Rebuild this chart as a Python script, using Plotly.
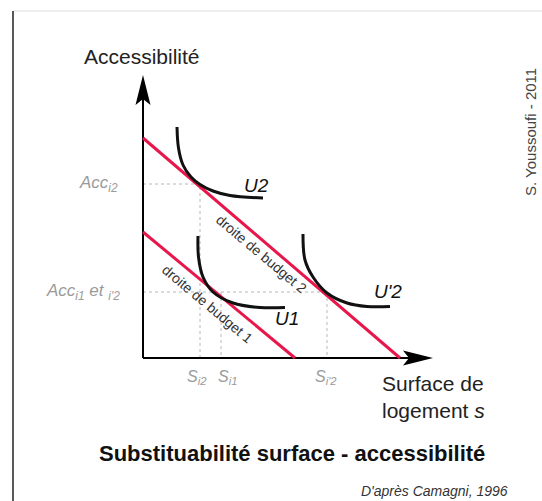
import plotly.graph_objects as go

# ---- data (diagram units; origin = axes origin, 1 unit ~ 1 px) ----
budget1_x = [0, 152]
budget1_y = [126, 0]
budget2_x = [0, 257]
budget2_y = [220, 0]

u2_x = [34, 35.5, 40, 48, 57, 70, 87, 120]
u2_y = [231, 210, 193, 181, 173.5, 167, 162.5, 160]
u1_x = [55, 55.5, 60, 70, 90, 117, 142]
u1_y = [122, 101, 81, 66, 55, 50.5, 50.5]
up2_x = [160, 162, 170, 184, 204, 224, 247]
up2_y = [124, 98, 81, 65, 55, 51.5, 51.5]

acc_i2 = 174      # Acc_i2 level
acc_i1 = 66       # Acc_i1 et i'2 level
s_i2 = 57
s_i1 = 78
s_ip2 = 184

y_axis_len = 262
x_axis_len = 268

FONT = "Liberation Sans, Arial, sans-serif"
RED = "#e8174b"
GRAY = "#9a9a9a"

fig = go.Figure()

# dotted guides
guide = dict(color="#b8b8b8", width=1, dash="dot")
fig.add_trace(go.Scatter(x=[0, s_i2, s_i2], y=[acc_i2, acc_i2, 0], mode="lines", line=guide))
fig.add_trace(go.Scatter(x=[0, s_ip2], y=[acc_i1, acc_i1], mode="lines", line=guide))
fig.add_trace(go.Scatter(x=[s_i1, s_i1], y=[acc_i1, 0], mode="lines", line=guide))
fig.add_trace(go.Scatter(x=[s_ip2, s_ip2], y=[acc_i1, 0], mode="lines", line=guide))

# axes
fig.add_trace(go.Scatter(x=[0, 0], y=[0, y_axis_len], mode="lines", line=dict(color="black", width=2)))
fig.add_trace(go.Scatter(x=[0, x_axis_len], y=[0, 0], mode="lines", line=dict(color="black", width=2)))

# budget lines
fig.add_trace(go.Scatter(x=budget1_x, y=budget1_y, mode="lines", line=dict(color=RED, width=3)))
fig.add_trace(go.Scatter(x=budget2_x, y=budget2_y, mode="lines", line=dict(color=RED, width=3)))

# indifference curves
for xs, ys in [(u2_x, u2_y), (u1_x, u1_y), (up2_x, up2_y)]:
    fig.add_trace(go.Scatter(x=xs, y=ys, mode="lines",
                             line=dict(color="#111", width=3, shape="spline", smoothing=1.0)))

# arrowheads
fig.add_shape(type="path", xref="x", yref="y",
              path=f"M 0,{y_axis_len+21} L 7.5,{y_axis_len-9} L 0,{y_axis_len-3} L -7.5,{y_axis_len-9} Z",
              fillcolor="black", line=dict(width=0))
fig.add_shape(type="path", xref="x", yref="y",
              path=f"M {x_axis_len+22},0 L {x_axis_len-8},7.5 L {x_axis_len-2},0 L {x_axis_len-8},-7.5 Z",
              fillcolor="black", line=dict(width=0))

# frame
fig.add_shape(type="line", xref="x", yref="y", x0=-130, x1=399, y0=347, y1=347,
              line=dict(color="#dddddd", width=1))
fig.add_shape(type="line", xref="x", yref="y", x0=-130, x1=-130, y0=347, y1=-143,
              line=dict(color="#222", width=1.5))

def ann(text, x, y, size, color="#222", xanchor="center", yanchor="middle", angle=0):
    fig.add_annotation(text=text, x=x, y=y, xref="x", yref="y", showarrow=False,
                       xanchor=xanchor, yanchor=yanchor, textangle=angle,
                       font=dict(family=FONT, size=size, color=color))

ann("Accessibilité", -1, 302, 21)
ann("<i>Acc<sub>i2</sub></i>", -23, acc_i2, 17, GRAY, xanchor="right")
ann("<i>Acc<sub>i1</sub> et <sub>i'2</sub></i>", -21, acc_i1, 17, GRAY, xanchor="right")
ann("<i>S<sub>i2</sub></i>", s_i2 - 3, -19, 16, GRAY)
ann("<i>S<sub>i1</sub></i>", s_i1 + 6, -19, 16, GRAY)
ann("<i>S<sub>i'2</sub></i>", s_ip2 - 1, -19, 16, GRAY)
ann("Surface de", 237, -25, 21, xanchor="left")
ann("logement <i>s</i>", 237, -52, 21, xanchor="left")
ann("<i>U2</i>", 113, 173, 19, "#111")
ann("<i>U1</i>", 144, 40, 19, "#111")
ann("<i>U'2</i>", 245, 67, 19, "#111")
ann("droite de budget 2", 118.5, 104, 14, "#333", angle=40)
ann("droite de budget 1", 64.5, 54, 14, "#333", angle=40)
ann("<b>Substituabilité surface - accessibilité</b>", 148.5, -95, 22, "#111")
ann("<i>D'après Camagni, 1996</i>", 367, -133, 14, "#333", xanchor="right")
ann("S. Youssoufi - 2011", 387, 226, 15, "#444", angle=-90)

fig.update_layout(
    width=542, height=501, autosize=False,
    margin=dict(l=0, r=0, t=0, b=0, pad=0),
    paper_bgcolor="white", plot_bgcolor="white",
    showlegend=False,
    xaxis=dict(range=[-143, 399], visible=False, fixedrange=True),
    yaxis=dict(range=[-143, 358], visible=False, fixedrange=True),
)

fig.write_html("out.html",
               post_script="document.body.style.margin='0';document.body.style.overflow='hidden';",
               config={"displayModeBar": False})
